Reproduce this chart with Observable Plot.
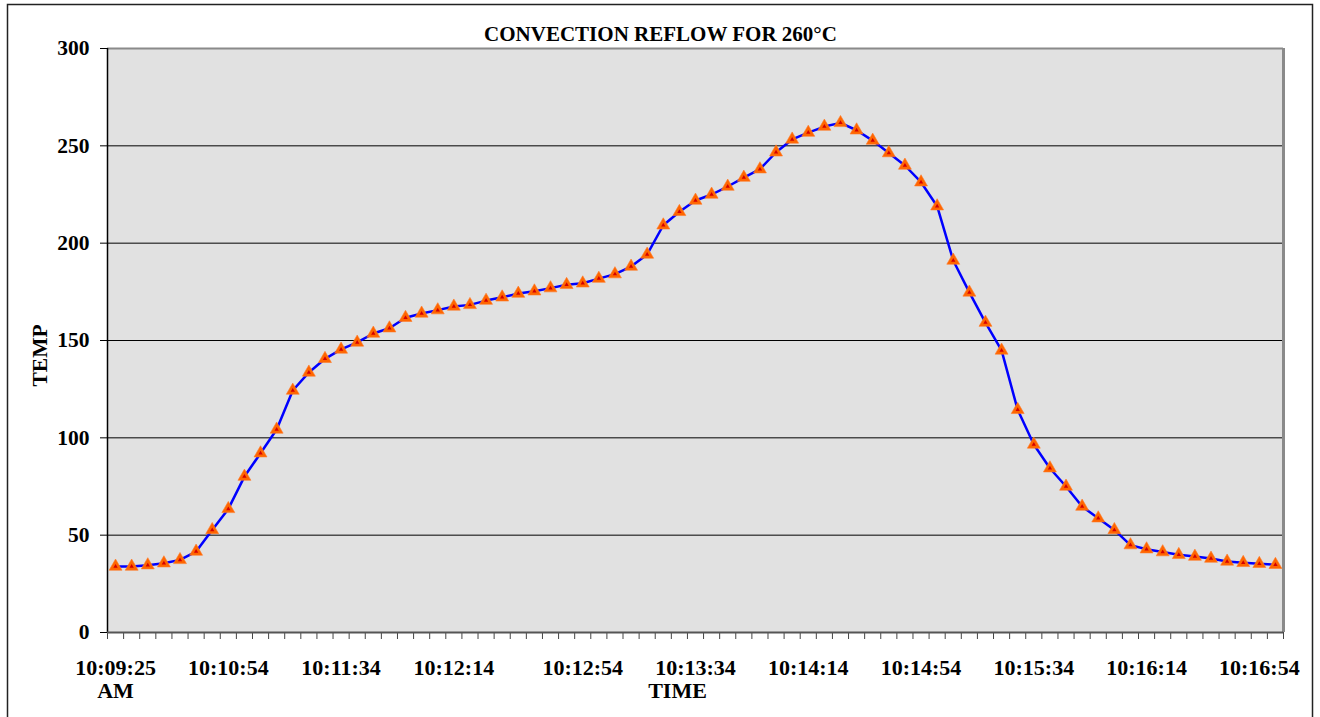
<!DOCTYPE html>
<html><head><meta charset="utf-8">
<script src="https://cdn.jsdelivr.net/npm/d3@7"></script>
<script src="https://cdn.jsdelivr.net/npm/@observablehq/plot@0.6"></script>
<style>body{margin:0;background:#fff} #chart{position:relative;width:1320px;height:717px;overflow:hidden}</style>
</head><body><div id="chart"></div>
<script>
const temps = [33.9,33.9,34.6,35.6,37.3,41.6,52.7,63.5,80.1,92.1,
  104.3,124.3,133.6,140.6,145.4,149,153.6,156.3,161.7,163.9,
  165.6,167.5,168.3,170.5,172.2,174.1,175.3,176.9,178.6,179.4,
  181.8,184.1,188,194.2,209.2,216.1,221.9,225,229.1,233.7,
  238,246.7,253.3,256.8,259.9,261.8,258,252.7,246.3,239.9,
  231.3,219,191.1,174.7,159.2,144.9,114.4,96.6,84.4,75,
  64.7,58.7,52.7,44.9,42.8,41.3,39.9,39,38,36.5,
  35.8,35.3,34.8];
const tickLabels = ["10:09:25\nAM","10:10:54","10:11:34","10:12:14","10:12:54","10:13:34","10:14:14","10:14:54","10:15:34","10:16:14","10:16:54"];
const tickSamples = [0,7,14,21,29,36,43,50,57,64,71];
const yTicks = [0,50,100,150,200,250,300];
const title = "CONVECTION REFLOW FOR 260°C";
const xTitle = "TIME";
const yTitle = "TEMP";

const data = temps.map((t, i) => ({i, t}));
const labels = tickLabels.map((text, k) => ({i: tickSamples[k], text}));
const font = "'Liberation Serif', 'Times New Roman', serif";
const N = temps.length;

const plot = Plot.plot({
  width: 1320, height: 717,
  marginLeft: 107, marginRight: 37, marginTop: 48, marginBottom: 85,
  style: {fontFamily: font, fontSize: "21px", fontWeight: "bold", background: "#fff", color: "#000", overflow: "visible"},
  x: {domain: [-0.5, N - 0.5], axis: null},
  y: {domain: [0, 300], axis: null},
  marks: [
    Plot.frame({fill: "#e1e1e1", stroke: null}),
    Plot.ruleY(yTicks.filter(v => v > 0 && v < 300), {stroke: "#000", strokeWidth: 1}),
    Plot.ruleY([300], {stroke: "#8a8a8a", strokeWidth: 2}),
    Plot.ruleX([N - 0.5], {stroke: "#8a8a8a", strokeWidth: 3}),
    Plot.axisY({ticks: yTicks, tickSize: 7, tickPadding: 11, tickFormat: d => String(d), fontSize: 21.5, fontWeight: "bold", label: null, stroke: "#000"}),
    Plot.axisX({ticks: d3.range(-0.5, N), tickSize: 7, tickFormat: () => "", label: null, stroke: "#444"}),
    Plot.ruleX([-0.5], {stroke: "#000", strokeWidth: 1.5}),
    Plot.ruleY([0], {stroke: "#555", strokeWidth: 2}),
    Plot.line(data, {x: "i", y: "t", stroke: "#0000ff", strokeWidth: 2.5}),
    Plot.dot(data, {x: "i", y: "t", symbol: "triangle", r: 4.8, fill: "#ff6600", stroke: "#ff7a26", strokeWidth: 0.6}),
    Plot.dot(data, {x: "i", y: "t", symbol: "triangle", r: 1.6, fill: "#d40000"}),
    Plot.text(labels, {x: "i", text: "text", frameAnchor: "bottom", lineAnchor: "top", dy: 25.6, lineHeight: 1.06, fontSize: 22, fontWeight: "bold"}),
    Plot.text([xTitle], {text: d => d, frameAnchor: "bottom", lineAnchor: "top", dx: -18, dy: 49.6, fontSize: 22, fontWeight: "bold"}),
    Plot.text([title], {text: d => d, frameAnchor: "top", lineAnchor: "top", dx: -35, dy: -22.4, fontSize: 21, fontWeight: "bold"}),
    Plot.text([yTitle], {text: d => d, frameAnchor: "left", textAnchor: "middle", rotate: -90, dx: -67, dy: 15, fontSize: 21.5, fontWeight: "bold"})
  ]
});

d3.select(plot).append("rect")
  .attr("x", 7.5).attr("y", 4.5).attr("width", 1305).attr("height", 730)
  .attr("fill", "none").attr("stroke", "#222").attr("stroke-width", 1.5);

document.getElementById("chart").append(plot);
</script>
</body></html>
